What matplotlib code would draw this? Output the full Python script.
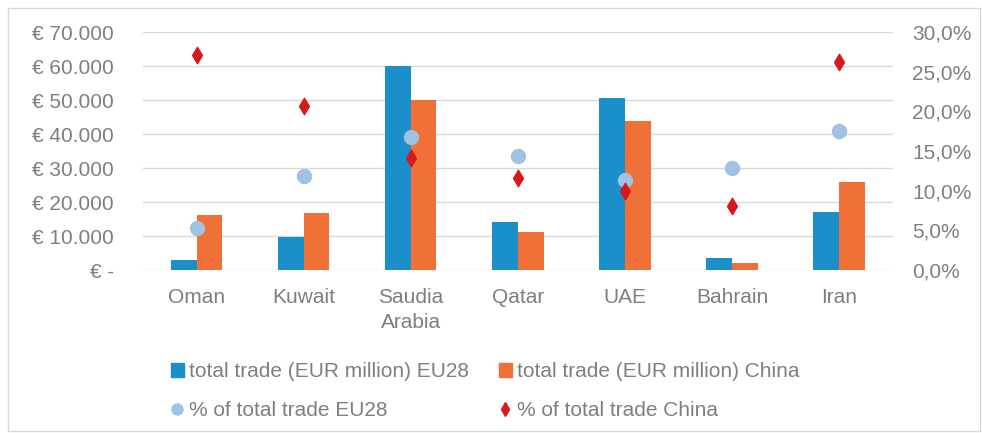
import matplotlib.pyplot as plt
import matplotlib.ticker as mticker
import numpy as np
from matplotlib.patches import Rectangle
from matplotlib.lines import Line2D

countries = ['Oman', 'Kuwait', 'Saudia\nArabia', 'Qatar', 'UAE', 'Bahrain', 'Iran']
trade_eu28 = [3000, 9700, 60000, 14100, 50600, 3500, 17000]
trade_china = [16200, 16800, 50000, 11200, 43800, 2100, 25900]
share_eu28 = [5.3, 11.9, 16.8, 14.4, 11.3, 12.9, 17.5]
share_china = [27.1, 20.7, 14.1, 11.6, 10.0, 8.1, 26.2]

blue = '#1a8fc9'
orange = '#f07038'
light_blue = '#9dc3e6'
red = '#d7191c'
grey = '#7f7f7f'
fs = 15

plt.rcParams['font.family'] = ['Liberation Sans', 'DejaVu Sans']

fig = plt.figure(figsize=(9.82, 4.33), dpi=100)
fig.patches.append(Rectangle((0.008, 0.004), 0.99, 0.978, transform=fig.transFigure,
                             fill=False, edgecolor='#d9d9d9', linewidth=1))

ax = fig.add_axes([0.1456, 0.3764, 0.7634, 0.5496])
x = np.arange(len(countries))
w = 0.24
ax.bar(x - w / 2, trade_eu28, w, color=blue, zorder=2)
ax.bar(x + w / 2, trade_china, w, color=orange, zorder=2)
ax.set_xlim(-0.5, len(countries) - 0.5)
ax.set_ylim(0, 70000)
ax.set_yticks(range(0, 70001, 10000))


def euro(v, pos):
    if v == 0:
        return '€ -'
    return '€ ' + f'{int(v):,}'.replace(',', '.')


ax.yaxis.set_major_formatter(mticker.FuncFormatter(euro))
ax.grid(axis='y', color='#d9d9d9', linewidth=1, zorder=0)
ax.set_xticks(x)
ax.set_xticklabels(countries, linespacing=1.4)
ax.tick_params(axis='both', length=0, labelsize=fs, labelcolor=grey)
ax.tick_params(axis='x', pad=13)
ax.tick_params(axis='y', pad=21)
for s in ax.spines.values():
    s.set_visible(False)

ax2 = ax.twinx()
ax2.set_ylim(0, 30)
ax2.set_yticks(np.arange(0, 30.1, 5))
ax2.yaxis.set_major_formatter(mticker.FuncFormatter(lambda v, p: f'{v:.1f}%'.replace('.', ',')))
ax2.tick_params(axis='y', length=0, labelsize=fs, labelcolor=grey, pad=14)
for s in ax2.spines.values():
    s.set_visible(False)
ax2.scatter(x, share_eu28, s=105, color=light_blue, edgecolor='#a9bfd0', linewidth=0.8, zorder=3)
ax2.scatter(x, share_china, s=70, marker='d', color=red, zorder=4)

col1 = [Rectangle((0, 0), 1, 1, color=blue),
        Line2D([], [], marker='o', linestyle='', markersize=8, color=light_blue)]
col2 = [Rectangle((0, 0), 1, 1, color=orange),
        Line2D([], [], marker='d', linestyle='', markersize=7, color=red)]
labels1 = ['total trade (EUR million) EU28', '% of total trade EU28']
labels2 = ['total trade (EUR million) China', '% of total trade China']

for handles, labels, x0 in [(col1, labels1, 171 / 982), (col2, labels2, 499 / 982)]:
    leg = fig.legend(handles, labels, loc='upper left', bbox_to_anchor=(x0, 0.163),
                     frameon=False, fontsize=fs, handlelength=0.6, handleheight=0.6,
                     handletextpad=0.25, labelspacing=0.95, borderpad=0, borderaxespad=0)
    for t in leg.get_texts():
        t.set_color(grey)

fig.savefig('out.png', dpi=100)
